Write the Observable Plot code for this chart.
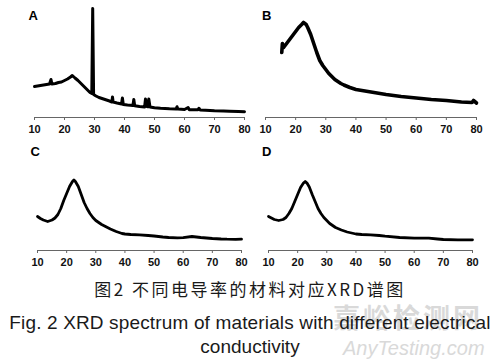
<!DOCTYPE html>
<html><head><meta charset="utf-8">
<script src="https://cdn.jsdelivr.net/npm/d3@7"></script>
<script src="https://cdn.jsdelivr.net/npm/@observablehq/plot@0.6"></script>
<style>
body{margin:0;background:#fff;}
#fig{position:relative;width:500px;height:363px;overflow:hidden;background:#fff;}
.panel{position:absolute;}
.panel svg{display:block;}
.cap{position:absolute;left:0;width:500px;text-align:center;color:#1a1a1a;white-space:nowrap;}
#capZh{top:280px;font-family:"Noto Sans CJK SC",sans-serif;font-size:17px;line-height:17px;letter-spacing:2.5px;}
#capEn1{top:312px;font-family:"Liberation Sans",Arial,sans-serif;font-size:19px;line-height:22px;letter-spacing:0.15px;}
#capEn2{top:336px;font-family:"Liberation Sans",Arial,sans-serif;font-size:19px;line-height:22px;}
.wm{position:absolute;color:#d9d9d9;white-space:nowrap;}
#wm1{left:333px;top:302px;font-family:"Noto Sans CJK SC",sans-serif;font-size:27px;line-height:30px;font-weight:bold;letter-spacing:3px;}
#wm2{left:343px;top:337px;font-family:"Liberation Sans",Arial,sans-serif;font-size:20px;line-height:22px;font-style:italic;}
</style></head><body>
<div id="fig">
  <div class="wm" id="wm1">嘉峪检测网</div>
  <div class="wm" id="wm2">AnyTesting.com</div>
  <div class="cap" id="capZh">图2 不同电导率的材料对应XRD谱图</div>
  <div class="cap" id="capEn1">Fig. 2 XRD spectrum of materials with different electrical</div>
  <div class="cap" id="capEn2">conductivity</div>
</div>
<script>
// Panel labels and x ticks (2θ, degrees)
const panelLabels = ["A", "B", "C", "D"];
const tickValues = [10, 20, 30, 40, 50, 60, 70, 80];

// Sample A (intensity, a.u.)
const angleA = [10, 11, 12, 13, 14, 15, 15.5, 15.8, 17, 18, 19, 20, 21, 22, 22.6, 23.5, 24.5, 25.5, 26.5, 27.5, 28.5, 29.1, 29.4, 29.7, 30.5, 31.5, 33, 35, 35.8, 36, 36.2, 37.5, 39, 39.3, 39.6, 41, 42.8, 43.1, 43.4, 45, 46.7, 47, 47.4, 47.8, 48.1, 48.5, 50, 52, 55, 57.2, 57.5, 57.8, 60, 61.2, 61.6, 64.5, 64.8, 65.2, 67, 70, 73, 75, 78, 80];
const intensityA = [31, 31.5, 32, 32.5, 33, 33.5, 38, 33.5, 34, 35, 35.5, 37, 38.5, 40.5, 42, 39.5, 37, 34, 31, 28, 25, 24, 109, 23, 21.5, 20, 18.5, 16.5, 15.5, 20.5, 15.5, 14.5, 13.5, 19.5, 13, 12.5, 12, 18, 11.8, 11, 10.5, 18.5, 11, 10.8, 18.5, 10.5, 9.8, 9.2, 8.7, 8.5, 10.8, 8.4, 8, 10, 7.8, 7.7, 9.3, 7.6, 7.3, 6.8, 6.6, 6.3, 6, 5.8];

// Sample B
const angleB = [15.4, 15.6, 16, 17, 18, 19, 20, 21, 22, 22.6, 23.5, 24, 25, 26, 27, 28, 29, 30, 31, 32, 33, 34, 35, 36, 38, 40, 42, 45, 50, 55, 60, 65, 70, 75, 78.5, 79, 80];
const intensityB = [65, 74, 70, 74, 78, 82, 86, 90, 93, 95, 93, 90, 83, 74, 65, 57, 52, 48, 44, 41, 38, 36, 34, 32.5, 30, 28, 27, 25.5, 23, 21, 19.5, 18, 17, 15.5, 15, 17, 14.5];

// Sample C
const angleC = [10, 11, 12, 13.5, 15, 16, 17, 18, 19, 20, 21, 22, 22.5, 23, 24, 25, 26, 27, 28, 29, 30, 31, 32, 33, 35, 37, 39, 40, 42, 45, 48, 50, 53, 55, 58, 60, 63, 66, 68, 70, 73, 75, 78, 80];
const intensityC = [34, 32, 30.5, 29, 30.5, 32.5, 36, 42, 50, 57, 64, 69, 70.5, 69, 64, 56, 48, 42, 37, 33, 30, 28, 26, 24.5, 21.5, 19, 17, 16.5, 16, 15.7, 15, 14.5, 13.5, 13, 12.7, 12.8, 14, 13, 12.5, 12, 11.5, 11.3, 11.2, 11.3];

// Sample D
const angleD = [10, 11, 12, 13.5, 15, 16, 17, 18, 19, 20, 21, 22, 22.6, 23.2, 24, 25, 26, 27, 28, 29, 30, 31, 32, 33, 35, 37, 40, 42, 45, 48, 50, 55, 60, 65, 68, 70, 75, 80];
const intensityD = [34, 32.5, 31, 30, 31, 33, 37, 42, 49, 56, 63, 67.5, 69, 67.5, 63.5, 56, 49, 42, 37, 33, 30, 27, 25, 23, 20.5, 18.5, 16.5, 16, 15.7, 15, 14.3, 13, 12.3, 12.3, 11.5, 11, 10.7, 10.7];

const font = "'Liberation Sans', Arial, sans-serif";

function panel(label, angles, intens, o) {
  const data = angles.map((a, i) => ({angle: a, intensity: intens[i]}));
  return Plot.plot({
    width: 250,
    height: o.height,
    marginLeft: o.ml,
    marginRight: o.mr,
    marginTop: 0,
    marginBottom: 20,
    x: {domain: [10, 80], label: null},
    y: {domain: [0, o.ymax], axis: null, label: null},
    style: {fontFamily: font, background: "transparent", overflow: "visible"},
    marks: [
      Plot.ruleY([0], {stroke: "#666", strokeWidth: 1}),
      Plot.axisX({ticks: tickValues, label: null, tickSize: 3, tickPadding: 5, stroke: "#666", fill: "#111", fontSize: 11, fontWeight: "bold", tickFormat: d => String(d)}),
      Plot.line(data, {x: "angle", y: "intensity", stroke: "#000", strokeWidth: o.sw, strokeLinejoin: "round"}),
      Plot.text([label], {frameAnchor: "top-left", dx: o.ldx, dy: o.ldy, fontSize: 13, fontWeight: "bold", textAnchor: "start", fill: "#000", lineAnchor: "top"})
    ]
  });
}

const fig = document.getElementById("fig");
const specs = [
  {label: panelLabels[0], a: angleA, v: intensityA, left: 0, top: 0, height: 137, ymax: 117, ml: 34, mr: 6, sw: 3, ldx: -6, ldy: 10},
  {label: panelLabels[1], a: angleB, v: intensityB, left: 250, top: 0, height: 137, ymax: 117, ml: 15, mr: 24, sw: 3.6, ldx: -3.5, ldy: 10},
  {label: panelLabels[2], a: angleC, v: intensityC, left: 0, top: 137, height: 133, ymax: 113, ml: 37, mr: 9, sw: 2.8, ldx: -7, ldy: 9.5},
  {label: panelLabels[3], a: angleD, v: intensityD, left: 250, top: 137, height: 133, ymax: 113, ml: 18, mr: 28, sw: 2.8, ldx: -6.5, ldy: 9.5}
];
for (const s of specs) {
  const div = document.createElement("div");
  div.className = "panel";
  div.style.left = s.left + "px";
  div.style.top = s.top + "px";
  div.appendChild(panel(s.label, s.a, s.v, s));
  fig.appendChild(div);
}
</script>
</body></html>
